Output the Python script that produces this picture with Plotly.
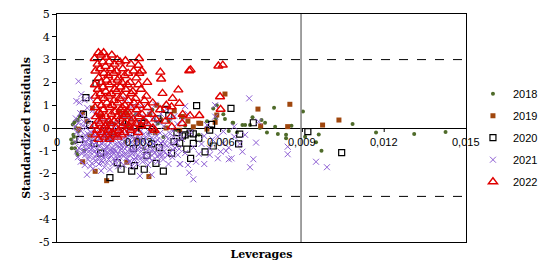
import plotly.graph_objects as go

# ---------------- data (leverage, standardized residual) ----------------
pts_2018 = [
    (0.00054, -0.89), (0.00066, -0.64), (0.00062, -0.38), (0.00075, -1.18), (0.00100, -1.0),
    (0.00074, 0.35), (0.00069, 0.0), (0.00060, -0.3), (0.00056, -0.67), (0.00066, -0.89),
    (0.00076, 0.35), (0.00088, 0.64), (0.00058, 0.15), (0.00052, -0.5), (0.00083, 0.5),
    (0.00079, -0.15), (0.00064, 0.25), (0.00072, -1.05),
    (0.00317, 0.43), (0.0029, 0.6), (0.0026, 0.1), (0.0034, -0.2), (0.0037, 0.2), (0.0041, 0.3),
    (0.0044, -0.1), (0.0039, -0.4), (0.0021, 0.2), (0.0025, -0.6), (0.0032, -0.9), (0.0047, 0.1),
    (0.0035, 0.8),
    (0.00586, 1.0), (0.00616, 0.39), (0.00644, 0.23), (0.0068, 0.13), (0.00708, 0.13),
    (0.00717, 0.47), (0.00763, 0.23), (0.00796, 0.89), (0.00744, 0.0), (0.0077, -0.2),
    (0.0081, -0.26), (0.0084, -0.3), (0.0084, -0.45), (0.00902, 0.72), (0.0063, -0.13),
    (0.00573, 0.86), (0.00583, 0.43), (0.00646, 0.23), (0.0069, 0.13), (0.0080, 0.06),
    (0.0091, -0.38), (0.0096, -0.29), (0.01084, 0.18), (0.0117, -0.2), (0.0131, -0.26),
    (0.01425, -0.18), (0.0095, -0.63), (0.0097, -1.0), (0.0055, 0.3), (0.0052, -0.3),
    (0.0061, 0.6), (0.0066, -0.2), (0.0075, 0.35), (0.0086, 0.1),
]

pts_2019 = [
    (0.00094, 0.67), (0.0013, 0.87), (0.00256, 0.65), (0.00366, 1.0), (0.0046, 0.5),
    (0.0052, 0.21), (0.00616, 1.49), (0.00737, 0.83), (0.00854, 1.04), (0.00846, 0.06),
    (0.00974, 0.13), (0.01034, 0.35), (0.00747, 0.09), (0.00586, 0.57), (0.00527, 0.2),
    (0.00457, 0.5),
    (0.00094, -1.48), (0.0014, -1.9), (0.00182, -2.31), (0.00256, -1.5), (0.00337, -2.13),
    (0.0011, 0.3), (0.0016, 0.5), (0.0019, 0.2), (0.0023, 0.7), (0.0027, 0.4), (0.0031, 0.1),
    (0.0034, 0.6), (0.0038, 0.35), (0.0040, 0.0), (0.0043, 0.75), (0.0048, 0.3), (0.0050, 0.05),
    (0.0021, -0.3), (0.0029, -0.5), (0.0036, -0.2), (0.0045, -0.1), (0.0008, -0.05),
    (0.0012, -0.35), (0.0055, -0.05), (0.0058, 0.25),
]

pts_2020 = [
    (0.00106, 1.33), (0.00143, 1.96), (0.00097, 0.6), (0.00396, 0.82), (0.0041, 0.53),
    (0.00512, 0.98), (0.00638, 0.86), (0.0035, -0.06), (0.0044, -0.2), (0.0056, -0.09),
    (0.0067, -0.27), (0.0072, 0.23), (0.00567, 0.16), (0.0050, -0.26), (0.0092, -0.16),
    (0.00488, -0.22), (0.00476, -0.93), (0.0049, -1.33), (0.00573, -0.79), (0.00666, -0.7),
    (0.00543, -1.05), (0.01044, -1.08), (0.0046, -0.35),
    (0.00194, -2.18), (0.00274, -1.89), (0.00235, -1.81), (0.00284, -1.65), (0.0032, -1.81),
    (0.00363, -1.55), (0.0039, -1.89), (0.00429, -0.6), (0.005, -0.67), (0.00136, -0.67),
    (0.00084, -0.5), (0.00221, -1.52), (0.00375, -0.86), (0.0045, -0.66), (0.0047, -0.3),
    (0.0052, -0.45), (0.00347, -0.7),
    (0.0012, 0.15), (0.0019, -0.4), (0.0024, 0.3), (0.0028, -0.9), (0.0031, 0.2),
    (0.0033, -1.2), (0.0037, 0.4), (0.0042, -1.1), (0.0027, -0.2), (0.0016, -1.1),
]

pts_2021 = [
    (0.00069, 0.42), (0.00072, -0.18), (0.00068, -0.62), (0.00074, -1.02), (0.00071, 1.18), (0.00066, 0.05),
    (0.00079, 2.05), (0.00082, 1.12), (0.00078, 0.22), (0.00084, -0.38), (0.00081, -0.88), (0.00077, -1.28), (0.00085, 0.65),
    (0.00089, 1.48), (0.00092, 0.52), (0.00088, -0.12), (0.00094, -0.68), (0.00091, -1.12), (0.00087, -1.48), (0.00095, 0.1),
    (0.00101, 1.22), (0.00098, 0.28), (0.00103, -0.32), (0.00099, -0.82), (0.00104, -1.18), (0.00102, -1.62), (0.00097, -0.5),
    (0.00111, 0.88), (0.00108, 0.02), (0.00113, -0.52), (0.00109, -0.98), (0.00114, -1.38), (0.00110, -2.05), (0.00112, -0.25),
    (0.00121, 1.32), (0.00118, 0.38), (0.00123, -0.18), (0.00119, -0.72), (0.00124, -1.08), (0.00122, -1.68), (0.00117, -0.45),
    (0.00131, 0.78), (0.00128, 0.12), (0.00133, -0.42), (0.00129, -0.88), (0.00134, -1.32), (0.00132, -1.78), (0.00127, -0.6),
    (0.00141, 0.58), (0.00138, -0.08), (0.00143, -0.62), (0.00139, -1.02), (0.00144, -1.48), (0.00136, -0.3),
    (0.00151, 0.22), (0.00148, -0.28), (0.00153, -0.78), (0.00149, -1.18), (0.00154, -1.58), (0.00146, -0.95),
    (0.00161, 0.42), (0.00158, -0.22), (0.00163, -0.68), (0.00159, -1.08), (0.00164, -1.42), (0.00162, -1.88), (0.00157, -0.5),
    (0.00171, 0.02), (0.00168, -0.48), (0.00173, -0.92), (0.00169, -1.28), (0.00174, -1.72), (0.00166, -0.7),
    (0.00181, 0.28), (0.00178, -0.32), (0.00183, -0.82), (0.00179, -1.18), (0.00184, -1.52), (0.00176, -1.0),
    (0.00191, -0.12), (0.00188, -0.58), (0.00193, -1.02), (0.00189, -1.38), (0.00194, -1.82), (0.00186, -0.8),
    (0.00201, 0.18), (0.00198, -0.42), (0.00203, -0.88), (0.00199, -1.22), (0.00204, -1.58), (0.00196, -0.65),
    (0.00211, -0.02), (0.00208, -0.52), (0.00213, -0.72), (0.00209, -1.12), (0.00214, -1.48), (0.00206, -0.95),
    (0.00221, 0.32), (0.00218, -0.28), (0.00223, -0.78), (0.00219, -1.32), (0.00224, -1.68), (0.00216, -1.0),
    (0.00231, -0.08), (0.00228, -0.62), (0.00233, -0.98), (0.00229, -1.42), (0.00226, -0.4),
    (0.00241, 0.52), (0.00238, -0.18), (0.00243, -0.72), (0.00239, -1.18), (0.00244, -1.62), (0.00236, -0.9),
    (0.00251, 1.28), (0.00248, 0.12), (0.00253, -0.38), (0.00249, -0.92), (0.00254, -1.32), (0.00246, -0.6),
    (0.00261, 0.82), (0.00258, -0.08), (0.00263, -0.58), (0.00259, -1.02), (0.00264, -1.48), (0.00256, -0.8),
    (0.00271, 0.38), (0.00268, -0.32), (0.00273, -0.82), (0.00269, -1.22), (0.00274, -1.68), (0.00266, -0.55),
    (0.00281, 0.98), (0.00278, 0.02), (0.00283, -0.48), (0.00279, -0.88), (0.00284, -1.38), (0.00276, -1.1),
    (0.00291, 0.62), (0.00288, -0.22), (0.00293, -0.68), (0.00289, -1.08), (0.00294, -1.58), (0.00286, -0.45),
    (0.00301, 0.28), (0.00298, -0.38), (0.00303, -0.82), (0.00299, -1.28), (0.00304, -2.1), (0.00296, -0.6),
    (0.00311, 0.92), (0.00308, -0.12), (0.00313, -0.58), (0.00309, -1.02), (0.00314, -1.48),
    (0.00321, 0.48), (0.00318, -0.28), (0.00323, -0.88), (0.00319, -1.22), (0.00316, -0.5),
    (0.00331, 0.18), (0.00328, -0.48), (0.00333, -0.72), (0.00329, -1.08), (0.00334, -1.62),
    (0.00341, 0.72), (0.00338, -0.18), (0.00343, -0.78), (0.00339, -1.32),
    (0.00351, 0.38), (0.00348, -0.42), (0.00353, -0.98), (0.00349, -1.42), (0.00347, -2.05),
    (0.00361, 1.02), (0.00358, 0.02), (0.00363, -0.62), (0.00359, -1.08),
    (0.00371, 0.28), (0.00368, -0.52), (0.00373, -0.92), (0.00369, -1.48),
    (0.00381, 0.62), (0.00378, -0.22), (0.00383, -0.68), (0.00379, -1.18),
    (0.00391, 0.08), (0.00388, -0.58), (0.00393, -1.02), (0.00389, -1.38),
    (0.00401, 0.82), (0.00398, -0.32), (0.00403, -0.78),
    (0.00411, 0.42), (0.00408, -0.48), (0.00413, -1.08), (0.00409, -1.58),
    (0.00421, -0.08), (0.00418, -0.72), (0.00423, -1.28),
    (0.00431, 0.52), (0.00428, -0.38), (0.00433, -0.88),
    (0.00441, 0.18), (0.00438, -0.62), (0.00443, -1.18),
    (0.00451, -0.28), (0.00448, -0.92), (0.00452, -1.58),
    (0.00461, 0.32), (0.00458, -0.48),
    (0.00105, -0.65), (0.00115, -0.85), (0.00125, -0.95), (0.00135, -0.75), (0.00145, -1.15),
    (0.00155, -0.45), (0.00165, -1.2), (0.00175, -0.35), (0.00185, -1.05), (0.00195, -0.45),
    (0.00205, -1.05), (0.00215, -0.35), (0.00225, -1.15), (0.00235, -0.75), (0.00245, -0.45),
    (0.00255, -1.15), (0.00265, -0.35), (0.00275, -1.0), (0.00285, -0.7), (0.00295, -0.95),
    (0.00305, -0.5), (0.00315, -0.8), (0.00325, -1.05), (0.00335, -0.3), (0.00345, -1.0),
    (0.00355, -0.7), (0.00365, -0.35), (0.00375, -1.15), (0.00385, -0.9), (0.00395, -0.7),
    (0.00405, -1.2), (0.00415, -0.25), (0.00425, -0.95), (0.00435, -0.6), (0.00098, -1.0),
    (0.00118, -1.25), (0.00128, -1.55), (0.00148, -1.35), (0.00168, -1.5), (0.00188, -1.2),
    (0.00208, -1.35), (0.00228, -1.25), (0.00248, -1.15), (0.00268, -1.45), (0.00288, -1.3),
    (0.00308, -1.3), (0.00328, -1.4), (0.00348, -1.2), (0.00368, -1.25), (0.00388, -1.2),
    (0.0047, 0.96), (0.0048, 0.61), (0.0058, 0.5), (0.0065, 0.06), (0.0074, 0.28), (0.0055, 0.13),
    (0.00705, 1.3), (0.0072, -1.37), (0.00708, -1.72), (0.00846, -0.82), (0.00846, -1.15),
    (0.0063, -1.37), (0.006, -1.04), (0.0062, -1.0), (0.0068, -1.04), (0.0073, -0.64),
    (0.0048, -1.62), (0.005, -2.25), (0.00485, -1.96), (0.0051, -1.48), (0.0056, -1.18),
    (0.0059, -1.33), (0.0052, -1.14), (0.0061, -0.67), (0.0065, -0.38), (0.0059, -0.38),
    (0.0095, -1.48), (0.0099, -1.72), (0.0045, -1.58), (0.0054, -1.58), (0.0064, -1.33),
    (0.0063, -0.86), (0.0049, -0.2), (0.0053, -0.7), (0.0057, -0.5), (0.0056, -0.9),
    (0.0067, -0.7), (0.0047, -1.1), (0.0050, -0.85), (0.0054, -0.35), (0.0061, -0.15),
    (0.0069, -0.3), (0.0058, 1.0),
]

pts_2022 = [
    (0.00138, 3.05), (0.00141, 2.5), (0.00139, 1.9), (0.00142, 1.4), (0.00140, 0.9), (0.00143, 0.5), (0.00137, 0.1), (0.00141, -0.3),
    (0.00152, 3.3), (0.00149, 2.8), (0.00153, 2.2), (0.00150, 1.7), (0.00148, 1.2), (0.00154, 0.7), (0.00151, 0.3), (0.00147, -0.1), (0.00152, -0.5),
    (0.00161, 3.2), (0.00158, 2.6), (0.00162, 2.0), (0.00159, 1.5), (0.00163, 1.0), (0.00160, 0.6), (0.00157, 0.2), (0.00162, -0.2),
    (0.00171, 3.3), (0.00168, 2.9), (0.00172, 2.4), (0.00169, 1.8), (0.00173, 1.3), (0.00170, 0.8), (0.00167, 0.4), (0.00171, 0.0), (0.00174, -0.4),
    (0.00181, 3.1), (0.00178, 2.7), (0.00182, 2.1), (0.00179, 1.6), (0.00183, 1.1), (0.00180, 0.5), (0.00177, 0.1), (0.00182, -0.3),
    (0.00191, 2.9), (0.00188, 2.3), (0.00192, 1.9), (0.00189, 1.4), (0.00193, 0.9), (0.00190, 0.3), (0.00187, -0.1), (0.00192, -0.5),
    (0.00201, 3.2), (0.00198, 2.6), (0.00202, 2.0), (0.00199, 1.5), (0.00203, 1.0), (0.00200, 0.6), (0.00197, 0.2), (0.00202, -0.2),
    (0.00211, 2.8), (0.00208, 2.4), (0.00212, 1.7), (0.00209, 1.2), (0.00213, 0.7), (0.00210, 0.3), (0.00207, -0.3),
    (0.00221, 3.0), (0.00218, 2.5), (0.00222, 2.1), (0.00219, 1.6), (0.00223, 1.1), (0.00220, 0.5), (0.00217, 0.0), (0.00222, -0.4),
    (0.00231, 2.9), (0.00228, 2.2), (0.00232, 1.8), (0.00229, 1.3), (0.00233, 0.8), (0.00230, 0.4), (0.00227, -0.1),
    (0.00241, 2.6), (0.00238, 2.0), (0.00242, 1.4), (0.00239, 0.9), (0.00243, 0.5), (0.00240, 0.1), (0.00237, -0.3),
    (0.00251, 2.95), (0.00248, 2.3), (0.00252, 1.7), (0.00249, 1.0), (0.00253, 0.6), (0.00250, 0.2), (0.00247, -0.2),
    (0.00261, 2.4), (0.00258, 1.9), (0.00262, 1.2), (0.00259, 0.7), (0.00263, 0.1),
    (0.00271, 2.8), (0.00268, 2.0), (0.00272, 1.5), (0.00269, 0.9), (0.00273, 0.3), (0.00270, -0.1),
    (0.00281, 2.5), (0.00278, 1.6), (0.00282, 1.1), (0.00279, 0.4), (0.00283, 0.0),
    (0.00291, 2.2), (0.00288, 1.3), (0.00292, 0.8), (0.00289, 0.2),
    (0.00301, 3.05), (0.00298, 2.75), (0.00302, 2.4), (0.00299, 1.9), (0.00303, 1.0), (0.00300, 0.5), (0.00297, -0.2),
    (0.00311, 2.5), (0.00308, 1.7), (0.00312, 0.6), (0.00309, 0.1),
    (0.00321, 1.2), (0.00318, 0.3),
    (0.00331, 2.0), (0.00328, 1.4), (0.00332, 0.9), (0.00329, 0.2),
    (0.00351, 1.1), (0.00348, 0.6), (0.00352, 0.0),
    (0.00361, 0.4), (0.00358, -0.1),
    (0.00379, 2.45), (0.00382, 2.15), (0.00387, 1.52), (0.00378, 0.8),
    (0.00401, 1.0), (0.00398, 0.3),
    (0.00424, 1.3), (0.00420, 0.93), (0.00418, 0.5), (0.00421, 0.05),
    (0.00445, 1.67), (0.00449, 1.08),
    (0.00461, 0.6), (0.00459, 0.2),
    (0.00485, 2.51), (0.00490, 2.55), (0.00488, 0.53),
    (0.00522, 0.55),
    (0.00592, 2.72), (0.00608, 2.76), (0.00598, 1.37), (0.00600, 0.82),
]

years = ["2018", "2019", "2020", "2021", "2022"]
x_ticks = [0, 0.003, 0.006, 0.009, 0.012, 0.015]
x_tick_labels = ["0", "0,003", "0,006", "0,009", "0,012", "0,015"]
y_ticks = [5, 4, 3, 2, 1, 0, -1, -2, -3, -4, -5]
y_tick_labels = ["5", "4", "3", "2", "1", "0", "-1", "-2", "-3", "-4", "-5"]
leverage_threshold = 0.00895
residual_limits = [3, -3]

# ---------------- styles ----------------
styles = {
    "2018": dict(symbol="circle", size=4, color="#4F6B2A", line=dict(width=0)),
    "2019": dict(symbol="square", size=5, color="#A0470E", line=dict(width=0)),
    "2020": dict(symbol="square-open", size=6, color="#000000", line=dict(width=1.2)),
    "2021": dict(symbol="x-thin-open", size=6, color="#8E5FD3", line=dict(width=1, color="#8E5FD3")),
    "2022": dict(symbol="triangle-up-open", size=8, color="#E00000", line=dict(width=1.4)),
}
series = {"2018": pts_2018, "2019": pts_2019, "2020": pts_2020, "2021": pts_2021, "2022": pts_2022}

fig = go.Figure()
for yr in years:
    pts = series[yr]
    fig.add_trace(go.Scatter(
        x=[p[0] for p in pts], y=[p[1] for p in pts], mode="markers", name=yr,
        legendgroup=yr, marker=styles[yr],
    ))

serif = "DejaVu Serif"
sans = "Liberation Sans"

shapes = []
for lim in residual_limits:
    shapes.append(dict(type="line", xref="paper", yref="y", x0=0, x1=1, y0=lim, y1=lim,
                       line=dict(color="black", width=1, dash="dash")))
shapes.append(dict(type="line", xref="x", yref="paper", x0=leverage_threshold, x1=leverage_threshold,
                   y0=0, y1=1, line=dict(color="#808080", width=1.5)))
for t in x_ticks[1:-1]:
    shapes.append(dict(type="line", xref="x", yref="y", xsizemode="scaled", ysizemode="pixel",
                       yanchor=0, x0=t, x1=t, y0=0, y1=-4, line=dict(color="black", width=1)))

annotations = []
for t, lab in zip(x_ticks, x_tick_labels):
    annotations.append(dict(x=t, y=0, xref="x", yref="y", text=lab, showarrow=False,
                            xanchor="center", yanchor="top", yshift=-6,
                            font=dict(family=sans, size=11, color="black")))

# the page body adds an 8px offset; the figure is sized to fit the 551x277 window
fig.update_layout(
    width=535, height=261,
    margin=dict(l=49, r=77, t=6, b=27, autoexpand=False),
    paper_bgcolor="white", plot_bgcolor="white",
    showlegend=True,
    legend=dict(x=1.017, y=0.714, xanchor="left", yanchor="top",
                font=dict(family=sans, size=11, color="black"),
                traceorder="grouped", tracegroupgap=3, itemwidth=30,
                bgcolor="rgba(0,0,0,0)"),
    shapes=shapes,
    annotations=annotations,
    xaxis=dict(range=[0, 0.015], showgrid=False, zeroline=False, showticklabels=False,
               ticks="", showline=True, mirror=True, linecolor="black", linewidth=1,
               automargin=False,
               title=dict(text="<b>Leverages</b>", standoff=8,
                          font=dict(family=serif, size=11, color="black"))),
    yaxis=dict(range=[-5, 5], tickvals=y_ticks, ticktext=y_tick_labels, showgrid=False,
               zeroline=True, zerolinecolor="black", zerolinewidth=1,
               ticks="outside", ticklen=4, tickcolor="black",
               showline=True, mirror=True, linecolor="black", linewidth=1,
               automargin=False, ticklabeloverflow="allow",
               tickfont=dict(family=serif, size=11, color="black"),
               title=dict(text="<b>Standardized residuals</b>", standoff=6,
                          font=dict(family=serif, size=11, color="black"))),
)

fig.write_html("out.html")
